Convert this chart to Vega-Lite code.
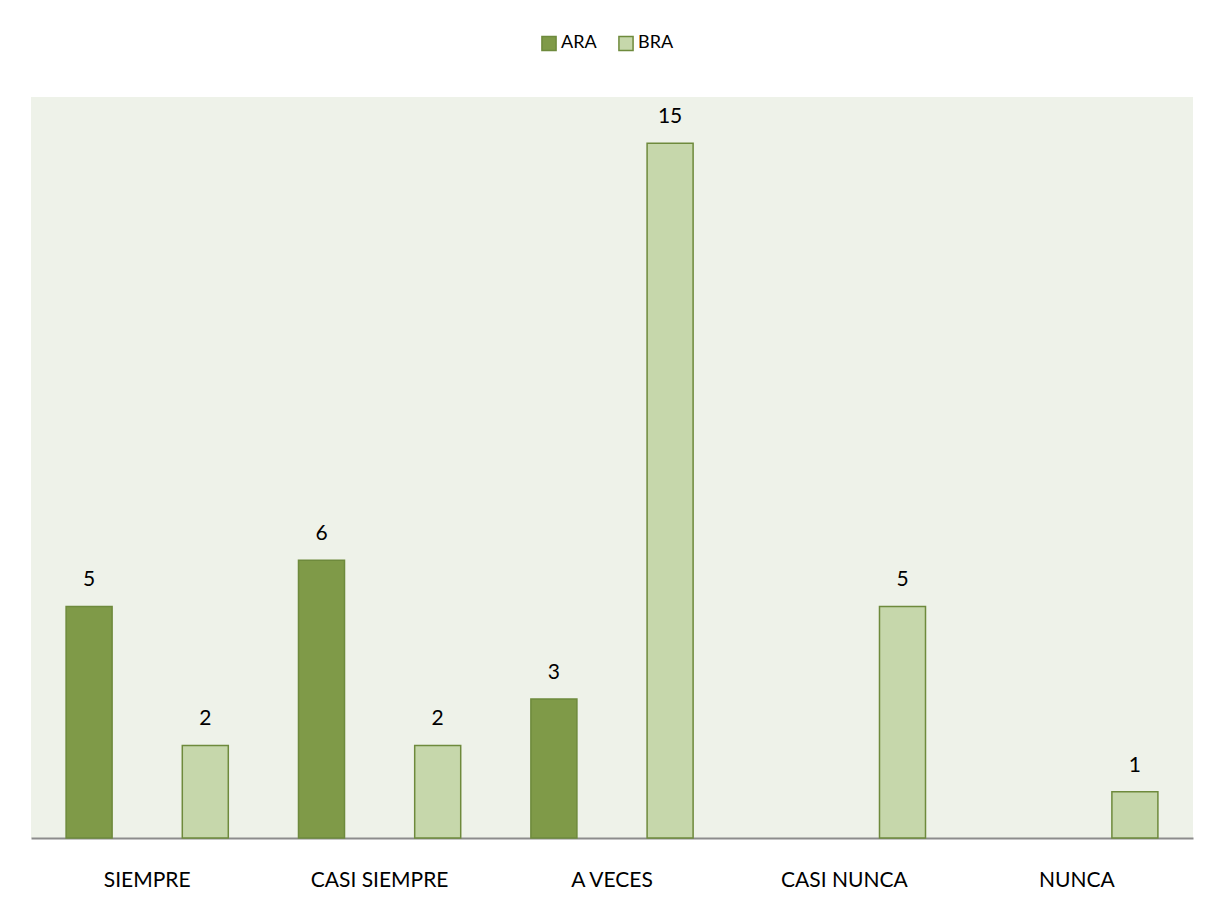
{
  "$schema": "https://vega.github.io/schema/vega-lite/v6.json",
  "width": 1162,
  "height": 741,
  "autosize": {"type": "none"},
  "padding": {"left": 31, "top": 97, "right": 30, "bottom": 86},
  "background": "#ffffff",
  "config": {
    "view": {"fill": "#EEF2E9", "stroke": null},
    "font": "Lato"
  },
  "data": {
    "values": [
      {"categoria": "SIEMPRE", "serie": "ARA", "valor": 5},
      {"categoria": "SIEMPRE", "serie": "BRA", "valor": 2},
      {"categoria": "CASI SIEMPRE", "serie": "ARA", "valor": 6},
      {"categoria": "CASI SIEMPRE", "serie": "BRA", "valor": 2},
      {"categoria": "A VECES", "serie": "ARA", "valor": 3},
      {"categoria": "A VECES", "serie": "BRA", "valor": 15},
      {"categoria": "CASI NUNCA", "serie": "BRA", "valor": 5},
      {"categoria": "NUNCA", "serie": "BRA", "valor": 1}
    ]
  },
  "encoding": {
    "x": {
      "field": "categoria",
      "type": "nominal",
      "sort": ["SIEMPRE", "CASI SIEMPRE", "A VECES", "CASI NUNCA", "NUNCA"],
      "scale": {"paddingInner": 0, "paddingOuter": 0},
      "axis": {
        "title": null,
        "labelAngle": 0,
        "ticks": false,
        "labelPadding": 31,
        "labelFontSize": 21,
        "labelColor": "#000000",
        "labelFont": "Lato",
        "domainColor": "#8C8C8C",
        "domainWidth": 2
      }
    },
    "xOffset": {
      "field": "serie",
      "type": "nominal",
      "scale": {"domain": ["ARA", "BRA"], "paddingInner": 0.604, "paddingOuter": 0.302}
    },
    "y": {
      "field": "valor",
      "type": "quantitative",
      "scale": {"domain": [0, 16], "nice": false},
      "axis": null
    }
  },
  "layer": [
    {
      "mark": {"type": "bar", "stroke": "#6E8A3C", "strokeWidth": 1.5},
      "encoding": {
        "color": {
          "field": "serie",
          "type": "nominal",
          "scale": {"domain": ["ARA", "BRA"], "range": ["#7F9A48", "#C6D7AB"]},
          "legend": {
            "title": null,
            "orient": "none",
            "direction": "horizontal",
            "legendX": 509,
            "legendY": -63,
            "symbolType": "square",
            "symbolSize": 200,
            "symbolStrokeColor": "#6E8A3C",
            "symbolStrokeWidth": 1.5,
            "labelFontSize": 18,
            "labelFont": "Lato",
            "labelColor": "#000000",
            "columnPadding": 18,
            "labelOffset": 3
          }
        }
      }
    },
    {
      "mark": {"type": "text", "dy": -26, "fontSize": 21, "font": "Lato", "color": "#000000"},
      "encoding": {
        "text": {"field": "valor", "type": "quantitative"}
      }
    }
  ]
}
